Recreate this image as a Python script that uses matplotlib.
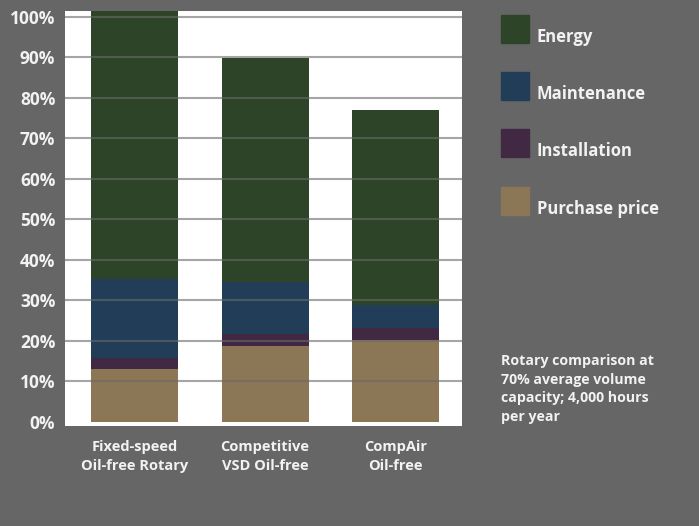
import numpy as np
import matplotlib.pyplot as plt

categories = ['Fixed-speed\nOil-free Rotary', 'Competitive\nVSD Oil-free', 'CompAir\nOil-free']
purchase = [13.0, 18.6, 20.1]
installation = [2.7, 3.1, 3.0]
maintenance = [19.4, 12.9, 5.7]
energy = [66.3, 55.2, 48.1]
series = ['Energy', 'Maintenance', 'Installation', 'Purchase price']
colors = ['#2e4429', '#213d57', '#412943', '#8b7656']
yticks = np.arange(0, 101, 10)
note = 'Rotary comparison at\n70% average volume\ncapacity; 4,000 hours\nper year'

bg = '#666666'
txt = '#f2f2f2'
plt.rcParams['font.family'] = ['Open Sans', 'DejaVu Sans']

fig = plt.figure(figsize=(6.99, 5.26), dpi=100, facecolor=bg)
ax = fig.add_axes([0.093, 0.190, 0.568, 0.789])
ax.set_facecolor('white')

x = np.arange(len(categories))
w = 0.667
bottom = np.zeros(len(categories))
stack = [purchase, installation, maintenance, energy]
stack_colors = colors[::-1]
for vals, c in zip(stack, stack_colors):
    ax.bar(x, vals, width=w, bottom=bottom, color=c, zorder=2)
    bottom += np.array(vals)

ax.set_xlim(-0.533, 2.51)
ax.set_ylim(-1.1, 101.4)
ax.set_yticks(yticks)
ax.set_yticklabels(['{}%'.format(t) for t in yticks], color=txt, fontsize=12.5, fontweight='bold')
for lab in ax.get_yticklabels():
    lab.set_y(lab.get_position()[1])
ax.set_xticks(x)
ax.set_xticklabels(categories, color=txt, fontsize=10.5, fontweight='bold', linespacing=1.45)
ax.tick_params(axis='x', length=0, pad=10)
ax.tick_params(axis='y', length=0, pad=7)
for s in ax.spines.values():
    s.set_visible(False)
for t in yticks[1:]:
    ax.axhline(t, color='#6a6a6a', lw=1.5, alpha=0.6, zorder=3)

# legend
for i, (name, c) in enumerate(zip(series, colors)):
    y0 = 1 - (15 + 57.2 * i) / 526
    fig.patches.append(plt.Rectangle((501 / 699, y0 - 28 / 526), 28 / 699, 28 / 526,
                                     transform=fig.transFigure, color=c))
    fig.text(537 / 699, 1 - (37 + 57.2 * i) / 526, name, color=txt, fontsize=12,
             fontweight='bold', va='center', ha='left')

fig.text(501 / 699, 1 - 354 / 526, note, color=txt, fontsize=10.2, fontweight='bold',
         va='top', ha='left', linespacing=1.42)

fig.savefig('out.png', dpi=100, facecolor=bg)
